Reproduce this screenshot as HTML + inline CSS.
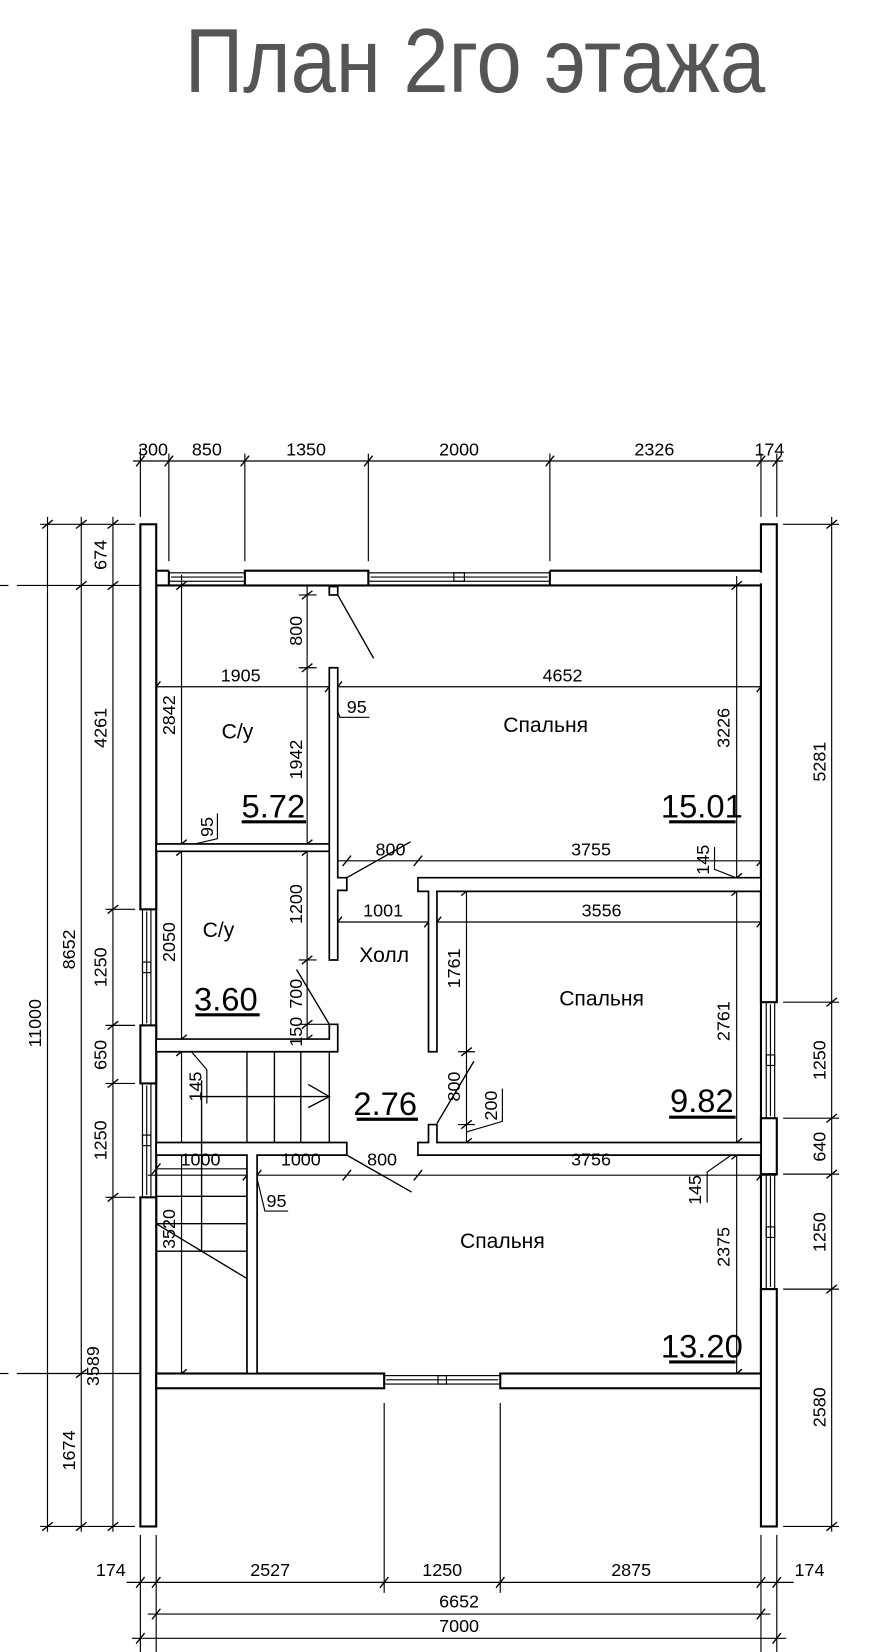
<!DOCTYPE html>
<html><head><meta charset="utf-8"><style>
html,body{margin:0;padding:0;background:#fff;}
svg{display:block;}
text{font-family:"Liberation Sans Narrow","Liberation Sans",sans-serif;fill:#000;}
.w{fill:#fff;stroke:#000;stroke-width:2;}
.b{stroke:#000;stroke-width:2;fill:none;}
.t{stroke:#000;stroke-width:1.1;fill:none;}
.d{font-size:17px;text-anchor:middle;}
.a{font-size:31px;text-anchor:middle;}
.r{font-size:20px;text-anchor:middle;}
</style></head><body>
<svg width="876" height="1652" viewBox="0 0 830 1566" preserveAspectRatio="none" xmlns="http://www.w3.org/2000/svg">
<defs><g id="k"><line x1="-4" y1="5" x2="4" y2="-5" stroke="#000" stroke-width="1.3"/></g>
<g id="kv"><line x1="-5" y1="4" x2="5" y2="-4" stroke="#000" stroke-width="1.3"/></g></defs>

<text transform="translate(450,87) scale(1,1.05)" font-size="82" text-anchor="middle" textLength="550" lengthAdjust="spacingAndGlyphs" style="fill:#555">План 2го этажа</text>

<!-- ===== dimension lines ===== -->
<g class="t">
<line x1="126" y1="437" x2="742" y2="437"/>
<line x1="133" y1="425" x2="133" y2="490"/>
<line x1="160" y1="430" x2="160" y2="532"/>
<line x1="232" y1="430" x2="232" y2="532"/>
<line x1="349" y1="430" x2="349" y2="532"/>
<line x1="521" y1="430" x2="521" y2="532"/>
<line x1="721" y1="430" x2="721" y2="490"/>
<line x1="736" y1="430" x2="736" y2="490"/>
<line x1="45" y1="490" x2="45" y2="1452"/>
<line x1="77" y1="490" x2="77" y2="1452"/>
<line x1="107" y1="490" x2="107" y2="1452"/>
<line x1="38" y1="497" x2="128" y2="497"/>
<line x1="38" y1="1447" x2="128" y2="1447"/>
<line x1="100" y1="862" x2="128" y2="862"/>
<line x1="100" y1="972" x2="128" y2="972"/>
<line x1="100" y1="1027" x2="128" y2="1027"/>
<line x1="100" y1="1135" x2="128" y2="1135"/>
<line x1="0" y1="555" x2="8" y2="555"/><line x1="16" y1="555" x2="148" y2="555"/>
<line x1="0" y1="1302" x2="8" y2="1302"/><line x1="16" y1="1302" x2="148" y2="1302"/>
<line x1="788" y1="490" x2="788" y2="1452"/>
<line x1="742" y1="497" x2="795" y2="497"/>
<line x1="742" y1="950" x2="795" y2="950"/>
<line x1="742" y1="1060" x2="795" y2="1060"/>
<line x1="742" y1="1113" x2="795" y2="1113"/>
<line x1="742" y1="1222" x2="795" y2="1222"/>
<line x1="742" y1="1447" x2="795" y2="1447"/>
<line x1="120" y1="1500" x2="752" y2="1500"/>
<line x1="140" y1="1530" x2="730" y2="1530"/>
<line x1="125" y1="1553" x2="745" y2="1553"/>
<line x1="133" y1="1455" x2="133" y2="1566"/>
<line x1="148" y1="1455" x2="148" y2="1566"/>
<line x1="721" y1="1455" x2="721" y2="1566"/>
<line x1="736" y1="1455" x2="736" y2="1566"/>
<line x1="364" y1="1330" x2="364" y2="1510"/>
<line x1="474" y1="1330" x2="474" y2="1510"/>
<line x1="291" y1="556" x2="291" y2="985"/>
<line x1="172" y1="545" x2="172" y2="1302"/>
<line x1="140" y1="651" x2="730" y2="651"/>
<line x1="320" y1="816" x2="728" y2="816"/>
<line x1="312" y1="874" x2="728" y2="874"/>
<line x1="442" y1="837" x2="442" y2="1090"/>
<line x1="698" y1="546" x2="698" y2="1302"/>
<line x1="148" y1="1108" x2="234" y2="1108"/>
<line x1="140" y1="1114" x2="736" y2="1114"/>
<line x1="283" y1="564" x2="300" y2="564"/>
<line x1="283" y1="633" x2="300" y2="633"/>
<line x1="283" y1="910" x2="300" y2="910"/>
<line x1="283" y1="971" x2="312" y2="971"/>
<line x1="434" y1="997" x2="450" y2="997"/>
<line x1="434" y1="1066" x2="450" y2="1066"/>
<polyline points="312,651 322,680 350,680"/>
<polyline points="172,803 206,795 206,771"/>
<polyline points="697,832 677,824 677,803"/>
<polyline points="172,986 196,1014 196,1046"/>
<polyline points="442,1073 476,1063 476,1032"/>
<polyline points="697,1092 670,1111 670,1140"/>
<polyline points="243,1115 251,1148 273,1148"/>
</g>
<g>
<use href="#k" x="133" y="437"/><use href="#k" x="160" y="437"/><use href="#k" x="232" y="437"/><use href="#k" x="349" y="437"/><use href="#k" x="521" y="437"/><use href="#k" x="721" y="437"/><use href="#k" x="736" y="437"/>
<use href="#kv" x="45" y="497"/><use href="#kv" x="45" y="1447"/>
<use href="#kv" x="77" y="497"/><use href="#kv" x="77" y="555"/><use href="#kv" x="77" y="1302"/><use href="#kv" x="77" y="1447"/>
<use href="#kv" x="107" y="497"/><use href="#kv" x="107" y="555"/><use href="#kv" x="107" y="862"/><use href="#kv" x="107" y="972"/><use href="#kv" x="107" y="1027"/><use href="#kv" x="107" y="1135"/><use href="#kv" x="107" y="1447"/>
<use href="#kv" x="788" y="497"/><use href="#kv" x="788" y="950"/><use href="#kv" x="788" y="1060"/><use href="#kv" x="788" y="1113"/><use href="#kv" x="788" y="1222"/><use href="#kv" x="788" y="1447"/>
<use href="#k" x="133" y="1500"/><use href="#k" x="148" y="1500"/><use href="#k" x="364" y="1500"/><use href="#k" x="474" y="1500"/><use href="#k" x="721" y="1500"/><use href="#k" x="736" y="1500"/>
<use href="#k" x="148" y="1530"/><use href="#k" x="721" y="1530"/><use href="#k" x="133" y="1553"/><use href="#k" x="736" y="1553"/>
<use href="#kv" x="291" y="564"/><use href="#kv" x="291" y="633"/><use href="#kv" x="291" y="800"/><use href="#kv" x="291" y="807"/><use href="#kv" x="291" y="910"/><use href="#kv" x="291" y="971"/><use href="#kv" x="291" y="985"/>
<use href="#kv" x="172" y="555"/><use href="#kv" x="172" y="800"/><use href="#kv" x="172" y="807"/><use href="#kv" x="172" y="985"/><use href="#kv" x="172" y="997"/><use href="#kv" x="172" y="1302"/>
<use href="#k" x="148" y="651"/><use href="#k" x="312" y="651"/><use href="#k" x="320" y="651"/><use href="#k" x="721" y="651"/>
<use href="#k" x="328.6" y="816"/><use href="#k" x="396" y="816"/><use href="#k" x="721" y="816"/>
<use href="#k" x="320" y="874"/><use href="#k" x="406" y="874"/><use href="#k" x="414" y="874"/><use href="#k" x="721" y="874"/>
<use href="#kv" x="442" y="845"/><use href="#kv" x="442" y="997"/><use href="#kv" x="442" y="1066"/><use href="#kv" x="442" y="1083"/>
<use href="#kv" x="698" y="555"/><use href="#kv" x="698" y="832"/><use href="#kv" x="698" y="845"/><use href="#kv" x="698" y="1083"/><use href="#kv" x="698" y="1095"/><use href="#kv" x="698" y="1302"/>
<use href="#k" x="148" y="1108"/><use href="#k" x="234" y="1114"/><use href="#k" x="243.6" y="1114"/><use href="#k" x="328.6" y="1114"/><use href="#k" x="396" y="1114"/><use href="#k" x="721" y="1114"/>
</g>

<line class="b" x1="148" y1="555" x2="721" y2="555"/>
<line class="b" x1="148" y1="555" x2="148" y2="1302"/>
<line class="b" x1="721" y1="555" x2="721" y2="1302"/>
<line class="b" x1="148" y1="541" x2="160" y2="541"/>
<line class="b" x1="160" y1="541" x2="160" y2="555"/>
<line class="b" x1="521" y1="541" x2="721" y2="541"/>
<line class="b" x1="521" y1="541" x2="521" y2="555"/>
<rect class="w" x="232" y="541" width="117" height="14"/>
<rect class="w" x="133" y="497" width="15" height="365"/>
<rect class="w" x="133" y="972" width="15" height="55"/>
<rect class="w" x="133" y="1135" width="15" height="312"/>
<rect class="w" x="721" y="497" width="15" height="453"/>
<rect class="w" x="721" y="1060" width="15" height="53"/>
<rect class="w" x="721" y="1222" width="15" height="225"/>
<line stroke="#fff" stroke-width="2.5" x1="721" y1="543" x2="721" y2="553"/>
<rect class="w" x="148" y="1302" width="216" height="14"/>
<rect class="w" x="474" y="1302" width="247" height="14"/>
<g class="t">
<rect x="160" y="543" width="72" height="8"/><line x1="162" y1="547" x2="230" y2="547"/>
<rect x="349" y="543" width="172" height="8"/><line x1="351" y1="547" x2="519" y2="547"/><rect x="430" y="543" width="10" height="8"/>
<rect x="364" y="1304" width="110" height="8"/><line x1="366" y1="1308" x2="472" y2="1308"/><rect x="415" y="1304" width="8" height="8"/>
<rect x="135" y="862" width="8" height="110"/><line x1="139" y1="864" x2="139" y2="970"/><rect x="135" y="912" width="8" height="10"/>
<rect x="135" y="1027" width="8" height="108"/><line x1="139" y1="1029" x2="139" y2="1133"/><rect x="135" y="1076" width="8" height="10"/>
<rect x="726" y="950" width="8" height="110"/><line x1="730" y1="952" x2="730" y2="1058"/><rect x="726" y="1000" width="8" height="10"/>
<rect x="726" y="1113" width="8" height="109"/><line x1="730" y1="1115" x2="730" y2="1220"/><rect x="726" y="1163" width="8" height="10"/>
</g>
<g class="w" style="stroke-width:1.6">
<rect x="148" y="800" width="164" height="7"/>
<polygon points="312,633 320,633 320,832 328.6,832 328.6,844 320,844 320,910 312,910"/>
<rect x="312" y="556" width="8" height="8"/>
<polygon points="148,985 312,985 312,971 320,971 320,997 148,997"/>
<polygon points="396,832 721,832 721,845 414,845 414,997 406,997 406,845 396,845"/>
<polygon points="406,1066 414,1066 414,1083 721,1083 721,1095 396,1095 396,1083 406,1083"/>
<polygon points="148,1083 328.6,1083 328.6,1095 243.6,1095 243.6,1302 234,1302 234,1095 148,1095"/>
</g>
<g class="t" style="stroke-width:1.3">
<line x1="234" y1="997" x2="234" y2="1083"/>
<line x1="260" y1="997" x2="260" y2="1083"/>
<line x1="285" y1="997" x2="285" y2="1083"/>
<line x1="312" y1="997" x2="312" y2="1083"/>
<line x1="148" y1="1134" x2="234" y2="1134"/>
<line x1="148" y1="1160" x2="234" y2="1160"/>
<line x1="148" y1="1186" x2="234" y2="1186"/>
<line x1="191" y1="1024" x2="191" y2="1186"/>
<line x1="191" y1="1039.5" x2="312" y2="1039.5"/>
<polyline points="292,1028 312,1039.5 292,1050"/>
<line x1="148" y1="1160" x2="234" y2="1212"/>
<line x1="320" y1="564" x2="354" y2="624"/>
<line x1="312" y1="971" x2="281" y2="919"/>
<line x1="328.6" y1="832" x2="389" y2="798"/>
<line x1="414" y1="1065" x2="449" y2="1006"/>
<line x1="328.6" y1="1095" x2="390" y2="1130"/>
</g>

<g class="d">
<text x="145" y="432">300</text><text x="196" y="432">850</text><text x="290" y="432">1350</text><text x="435" y="432">2000</text><text x="620" y="432">2326</text><text x="729" y="432">174</text>
<text x="105" y="1494">174</text><text x="256" y="1494">2527</text><text x="419" y="1494">1250</text><text x="598" y="1494">2875</text><text x="767" y="1494">174</text>
<text x="435" y="1524">6652</text><text x="435" y="1547">7000</text>
<text x="228" y="646">1905</text><text x="533" y="646">4652</text>
<text x="338" y="676">95</text>
<text x="370" y="811">800</text><text x="560" y="811">3755</text>
<text x="363" y="869">1001</text><text x="570" y="869">3556</text>
<text x="190" y="1105">1000</text><text x="285" y="1105">1000</text><text x="362" y="1105">800</text><text x="560" y="1105">3756</text>
<text x="262" y="1144">95</text>
</g>
<g class="d">
<text transform="translate(39,970) rotate(-90)">11000</text>
<text transform="translate(71,900) rotate(-90)">8652</text>
<text transform="translate(71,1375) rotate(-90)">1674</text>
<text transform="translate(101,526) rotate(-90)">674</text>
<text transform="translate(101,690) rotate(-90)">4261</text>
<text transform="translate(101,917) rotate(-90)">1250</text>
<text transform="translate(101,1000) rotate(-90)">650</text>
<text transform="translate(101,1081) rotate(-90)">1250</text>
<text transform="translate(94,1295) rotate(-90)">3589</text>
<text transform="translate(782,722) rotate(-90)">5281</text>
<text transform="translate(782,1005) rotate(-90)">1250</text>
<text transform="translate(782,1087) rotate(-90)">640</text>
<text transform="translate(782,1168) rotate(-90)">1250</text>
<text transform="translate(782,1334) rotate(-90)">2580</text>
<text transform="translate(286,598) rotate(-90)">800</text>
<text transform="translate(286,720) rotate(-90)">1942</text>
<text transform="translate(286,857) rotate(-90)">1200</text>
<text transform="translate(286,942) rotate(-90)">700</text>
<text transform="translate(286,978) rotate(-90)">150</text>
<text transform="translate(166,678) rotate(-90)">2842</text>
<text transform="translate(166,893) rotate(-90)">2050</text>
<text transform="translate(166,1165) rotate(-90)">3520</text>
<text transform="translate(202,784) rotate(-90)">95</text>
<text transform="translate(691,690) rotate(-90)">3226</text>
<text transform="translate(691,968) rotate(-90)">2761</text>
<text transform="translate(691,1182) rotate(-90)">2375</text>
<text transform="translate(436,918) rotate(-90)">1761</text>
<text transform="translate(436,1030) rotate(-90)">800</text>
<text transform="translate(471,1048) rotate(-90)">200</text>
<text transform="translate(672,815) rotate(-90)">145</text>
<text transform="translate(664,1128) rotate(-90)">145</text>
<text transform="translate(191,1030) rotate(-90)">145</text>
</g>
<g class="r">
<text x="225" y="700">С/у</text>
<text x="517" y="694">Спальня</text>
<text x="207" y="888">С/у</text>
<text x="364" y="912">Холл</text>
<text x="570" y="953">Спальня</text>
<text x="476" y="1183">Спальня</text>
</g>
<g class="a">
<text x="259" y="775">5.72</text>
<text x="665" y="775">15.01</text>
<text x="214" y="958">3.60</text>
<text x="365" y="1057">2.76</text>
<text x="665" y="1054">9.82</text>
<text x="665" y="1287">13.20</text>
</g>
<g stroke="#000" stroke-width="3">
<line x1="229" y1="779" x2="290" y2="779"/>
<line x1="634" y1="779" x2="697" y2="779"/>
<line x1="185" y1="962" x2="246" y2="962"/>
<line x1="338" y1="1061" x2="396" y2="1061"/>
<line x1="634" y1="1059" x2="697" y2="1059"/>
<line x1="634" y1="1291" x2="697" y2="1291"/>
</g>
</svg>
</body></html>
